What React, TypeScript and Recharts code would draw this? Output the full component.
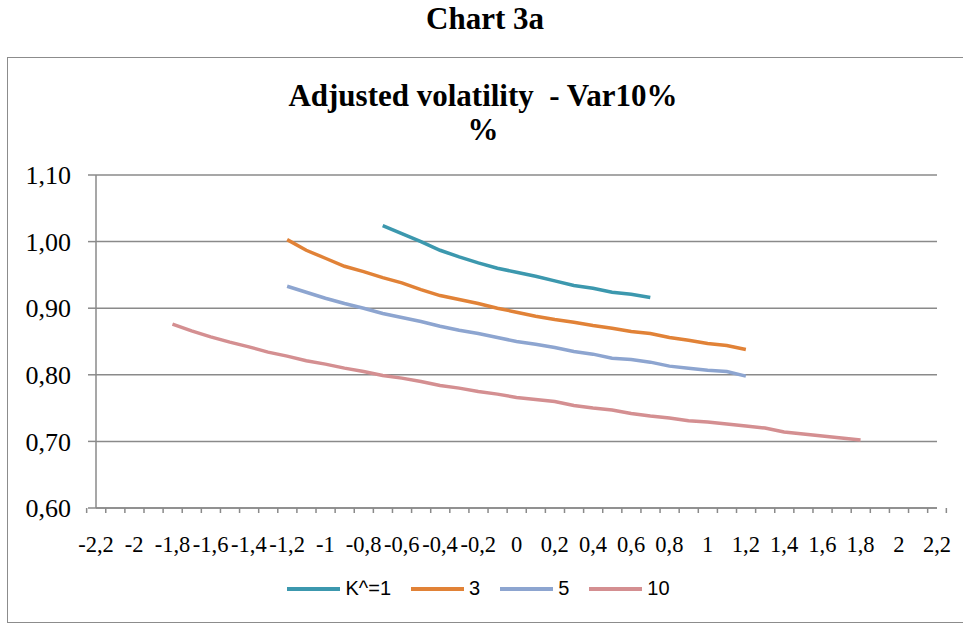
import React from 'react';
import { LineChart, Line, XAxis, YAxis, CartesianGrid, Legend } from 'recharts';

// x categories: -2,2 .. 2,2 step 0,1 (every second one is labelled)
const categories = [
    '-2,2', '-2,1', '-2', '-1,9', '-1,8', '-1,7', '-1,6', '-1,5', '-1,4', '-1,3', '-1,2', '-1,1', '-1',
    '-0,9', '-0,8', '-0,7', '-0,6', '-0,5', '-0,4', '-0,3', '-0,2', '-0,1', '0',
    '0,1', '0,2', '0,3', '0,4', '0,5', '0,6', '0,7', '0,8', '0,9', '1',
    '1,1', '1,2', '1,3', '1,4', '1,5', '1,6', '1,7', '1,8', '1,9', '2', '2,1', '2,2',
];

const yTicks = [0.6, 0.7, 0.8, 0.9, 1.0, 1.1];

// K^=1 from -0,7 to 0,7
const k1Start = '-0,7';
const k1Values = [1.024, 1.012, 1.0, 0.987, 0.977, 0.968, 0.96, 0.954, 0.948, 0.941, 0.934, 0.93, 0.924, 0.921, 0.916];

// 3 from -1,2 to 1,2
const k3Start = '-1,2';
const k3Values = [
    1.003, 0.987, 0.975, 0.963, 0.955, 0.946, 0.938, 0.928, 0.919, 0.913, 0.907, 0.9, 0.894,
    0.888, 0.883, 0.879, 0.874, 0.87, 0.865, 0.862, 0.856, 0.852, 0.847, 0.844, 0.838,
];

// 5 from -1,2 to 1,2
const k5Start = '-1,2';
const k5Values = [
    0.933, 0.924, 0.915, 0.907, 0.9, 0.892, 0.886, 0.88, 0.873, 0.867, 0.862, 0.856, 0.85,
    0.846, 0.841, 0.835, 0.831, 0.825, 0.823, 0.819, 0.813, 0.81, 0.807, 0.805, 0.798,
];

// 10 from -1,8 to 1,8
const k10Start = '-1,8';
const k10Values = [
    0.876, 0.866, 0.857, 0.849, 0.842, 0.834, 0.828, 0.821, 0.816, 0.81, 0.805, 0.799, 0.795,
    0.79, 0.784, 0.78, 0.775, 0.771, 0.766, 0.763, 0.76, 0.754, 0.75, 0.747, 0.742, 0.738,
    0.735, 0.731, 0.729, 0.726, 0.723, 0.72, 0.714, 0.711, 0.708, 0.705, 0.702,
];

const series = [
    { key: 'k1', name: 'K^=1', color: '#3C98AE', start: k1Start, values: k1Values },
    { key: 'k3', name: '3', color: '#E18237', start: k3Start, values: k3Values },
    { key: 'k5', name: '5', color: '#8DA5D0', start: k5Start, values: k5Values },
    { key: 'k10', name: '10', color: '#D48F91', start: k10Start, values: k10Values },
];

const data = categories.map((x, i) => {
    const row: Record<string, string | number> = { x };
    series.forEach(s => {
        const j = i - categories.indexOf(s.start);
        if (j >= 0 && j < s.values.length) row[s.key] = s.values[j];
    });
    return row;
});

const GRID = '#8a8a8a';
const SERIF = '"Liberation Serif", "Times New Roman", Times, serif';
const BAND = 841 / categories.length;

const XTick = (props: any) => {
    const { x, y, payload, index } = props;
    const top = y - 6;
    return (
        <g>
            <line x1={x - BAND / 2} x2={x - BAND / 2} y1={top} y2={top + 5} stroke={GRID} strokeWidth={1.5} />
            {index === categories.length - 1 && (
                <line x1={x + BAND / 2} x2={x + BAND / 2} y1={top} y2={top + 5} stroke={GRID} strokeWidth={1.5} />
            )}
            {index % 2 === 0 && (
                <text x={x} y={top + 44} textAnchor="middle" fill="#000" style={{ fontFamily: SERIF, fontSize: 22.5 }}>
                    {payload.value}
                </text>
            )}
        </g>
    );
};

const LegendContent = () => (
    <div style={{
        display: 'flex', justifyContent: 'center', alignItems: 'center', paddingLeft: 40,
        fontFamily: '"Liberation Sans Narrow", "Liberation Sans", Arial, sans-serif', fontSize: 20, color: '#000',
    }}>
        {series.map(s => (
            <div key={s.key} style={{ display: 'flex', alignItems: 'center', marginRight: 20 }}>
                <span style={{ display: 'inline-block', width: 53, height: 4, background: s.color, marginRight: 5 }} />
                <span>{s.name}</span>
            </div>
        ))}
    </div>
);

const App: React.FC = () => {
    return (
        <div style={{ position: 'absolute', left: 0, top: 0, width: 963, height: 631, background: '#fff' }}>
            <div style={{
                position: 'absolute', left: 0, top: 1, width: 970, textAlign: 'center',
                fontFamily: SERIF, fontWeight: 'bold', fontSize: 31,
            }}>
                Chart 3a
            </div>
            <div style={{
                position: 'absolute', left: 7, top: 57, width: 960, height: 566,
                border: '1.5px solid #8c8c8c', boxSizing: 'border-box',
            }} />
            <div style={{
                position: 'absolute', left: 0, top: 79, width: 966, textAlign: 'center',
                fontFamily: SERIF, fontWeight: 'bold', fontSize: 31,
                lineHeight: '34px', whiteSpace: 'pre',
            }}>
                {'Adjusted volatility  - Var10%\n%'}
            </div>
            <div style={{ position: 'absolute', left: 0, top: 0 }}>
                <LineChart width={963} height={631} data={data}
                    margin={{ top: 175, right: 26, left: 0, bottom: 24 }}>
                    <CartesianGrid vertical={false} stroke={GRID} strokeWidth={1.5} />
                    <XAxis dataKey="x" interval={0} tickLine={false} tickSize={6} tickMargin={0}
                        height={69} stroke={GRID} strokeWidth={1.5} tick={<XTick />} />
                    <YAxis domain={[0.6, 1.1]} ticks={yTicks} width={96} tickSize={8} tickMargin={17}
                        stroke={GRID} strokeWidth={1.5}
                        tickFormatter={(v: number) => v.toFixed(2).replace('.', ',')}
                        tick={{ fill: '#000', fontSize: 26, fontFamily: SERIF }} />
                    <Legend verticalAlign="bottom" height={30} content={<LegendContent />} />
                    {series.map(s => (
                        <Line key={s.key} type="linear" dataKey={s.key} name={s.name} stroke={s.color}
                            strokeWidth={3.5} dot={false} isAnimationActive={false} />
                    ))}
                </LineChart>
            </div>
        </div>
    );
};

export default App;
